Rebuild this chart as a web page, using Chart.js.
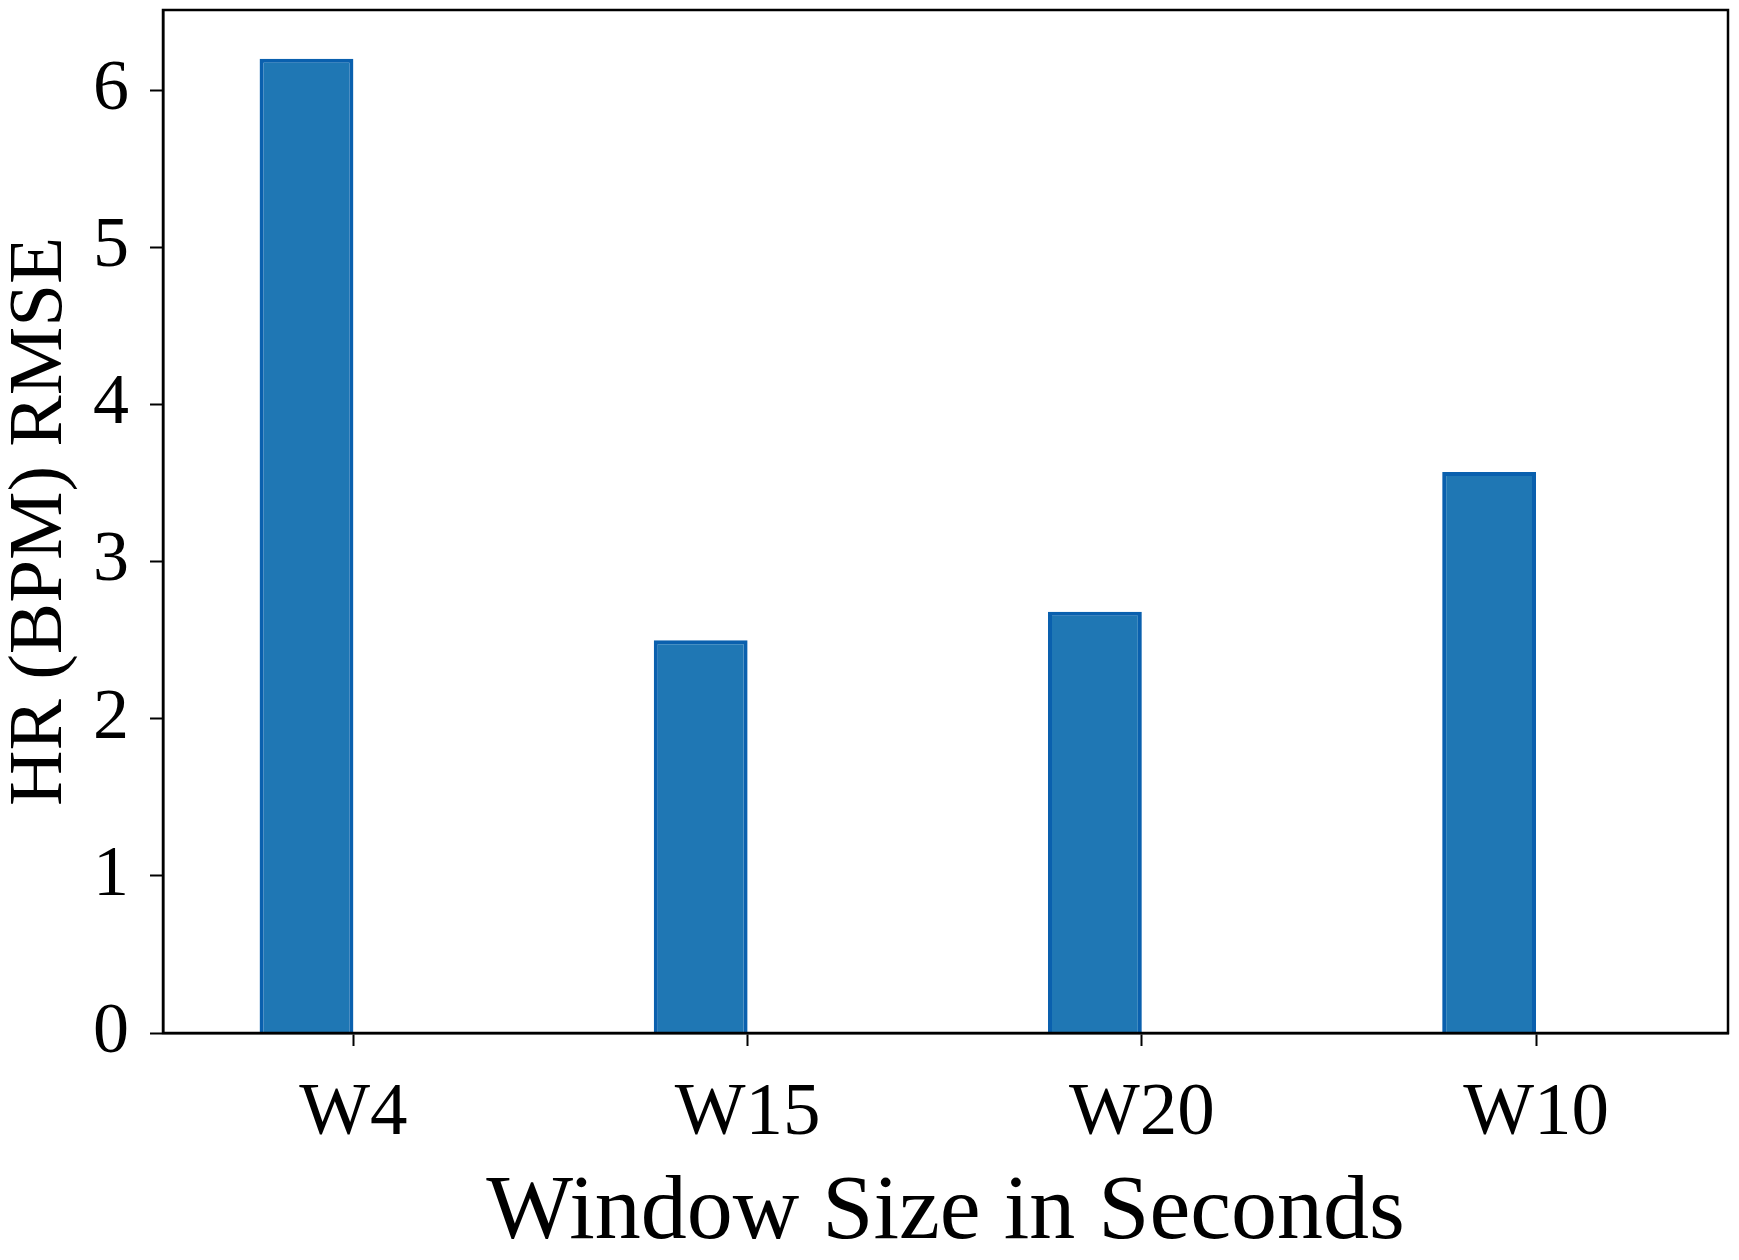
<!DOCTYPE html>
<html>
<head>
<meta charset="utf-8">
<script src="https://cdn.jsdelivr.net/npm/chart.js@4/dist/chart.umd.min.js"></script>
<style>
  html, body { margin: 0; padding: 0; background: #ffffff; }
  #wrap { width: 1739px; height: 1260px; position: relative; }
  canvas { display: block; }
</style>
</head>
<body>
<div id="wrap"><canvas id="c" width="1739" height="1260"></canvas></div>
<script>
// ---- data ----
const categories = ["W4", "W15", "W20", "W10"];
const rmseValues = [6.2, 2.5, 2.68, 3.57];
const yTickValues = [0, 1, 2, 3, 4, 5, 6];
const xAxisTitle = "Window Size in Seconds";
const yAxisTitle = "HR (BPM) RMSE";

const FONT = "'Liberation Serif', 'Times New Roman', serif";

const framePlugin = {
  id: 'frame',
  afterDraw(chart) {
    const a = chart.chartArea, ctx = chart.ctx;
    ctx.save();
    ctx.strokeStyle = '#000000';
    ctx.lineWidth = 2.5;
    ctx.strokeRect(a.left, a.top, a.right - a.left, a.bottom - a.top);
    ctx.restore();
  }
};

function zeroPad(scale) {
  scale.paddingTop = 0;
  scale.paddingBottom = 0;
  scale.paddingLeft = 0;
  scale.paddingRight = 0;
}

new Chart(document.getElementById('c'), {
  type: 'bar',
  data: {
    datasets: [
      {
        label: 'RMSE',
        data: categories.map((c, i) => ({ x: i, y: rmseValues[i] })),
        backgroundColor: '#1f77b4',
        borderColor: '#0a60ae',
        borderWidth: 4,
        borderSkipped: 'bottom',
        categoryPercentage: 0.476,
        barPercentage: 1.0
      },
      {
        label: '',
        data: categories.map((c, i) => ({ x: i, y: null })),
        backgroundColor: 'rgba(0,0,0,0)',
        categoryPercentage: 0.476,
        barPercentage: 1.0
      }
    ]
  },
  options: {
    responsive: false,
    animation: false,
    events: [],
    layout: { padding: { top: 10, right: 11, left: 0, bottom: 0 } },
    plugins: { legend: { display: false }, tooltip: { enabled: false } },
    scales: {
      x: {
        type: 'linear',
        offset: false,
        min: -0.483,
        max: 3.487,
        afterBuildTicks(scale) {
          scale.ticks = categories.map((c, i) => ({ value: i }));
        },
        afterFit(scale) { scale.height = 227; zeroPad(scale); },
        ticks: {
          autoSkip: false,
          maxRotation: 0,
          color: '#000000',
          font: { family: FONT, size: 75, lineHeight: 1 },
          padding: 31,
          callback: (v) => categories[v]
        },
        grid: {
          display: true,
          offset: false,
          drawOnChartArea: false,
          drawTicks: true,
          tickLength: 13,
          tickWidth: 2,
          tickColor: '#000000'
        },
        border: { display: true, color: '#000000', width: 2.5 },
        title: {
          display: true,
          text: xAxisTitle,
          color: '#000000',
          font: { family: FONT, size: 92, lineHeight: 1 },
          padding: { top: 0, bottom: 0 }
        }
      },
      y: {
        type: 'linear',
        min: 0,
        max: 6.51,
        afterBuildTicks(scale) {
          scale.ticks = yTickValues.map(v => ({ value: v }));
        },
        afterFit(scale) { scale.width = 163; zeroPad(scale); },
        ticks: {
          color: '#000000',
          font: { family: FONT, size: 72, lineHeight: 1 },
          padding: 21,
          callback: (v) => String(v)
        },
        grid: {
          display: true,
          drawOnChartArea: false,
          drawTicks: true,
          tickLength: 13,
          tickWidth: 2,
          tickColor: '#000000'
        },
        border: { display: true, color: '#000000', width: 2.5 },
        title: {
          display: true,
          text: yAxisTitle,
          color: '#000000',
          font: { family: FONT, size: 77, lineHeight: 1 },
          padding: { top: 2, bottom: 0 }
        }
      }
    }
  },
  plugins: [framePlugin]
});
</script>
</body>
</html>
